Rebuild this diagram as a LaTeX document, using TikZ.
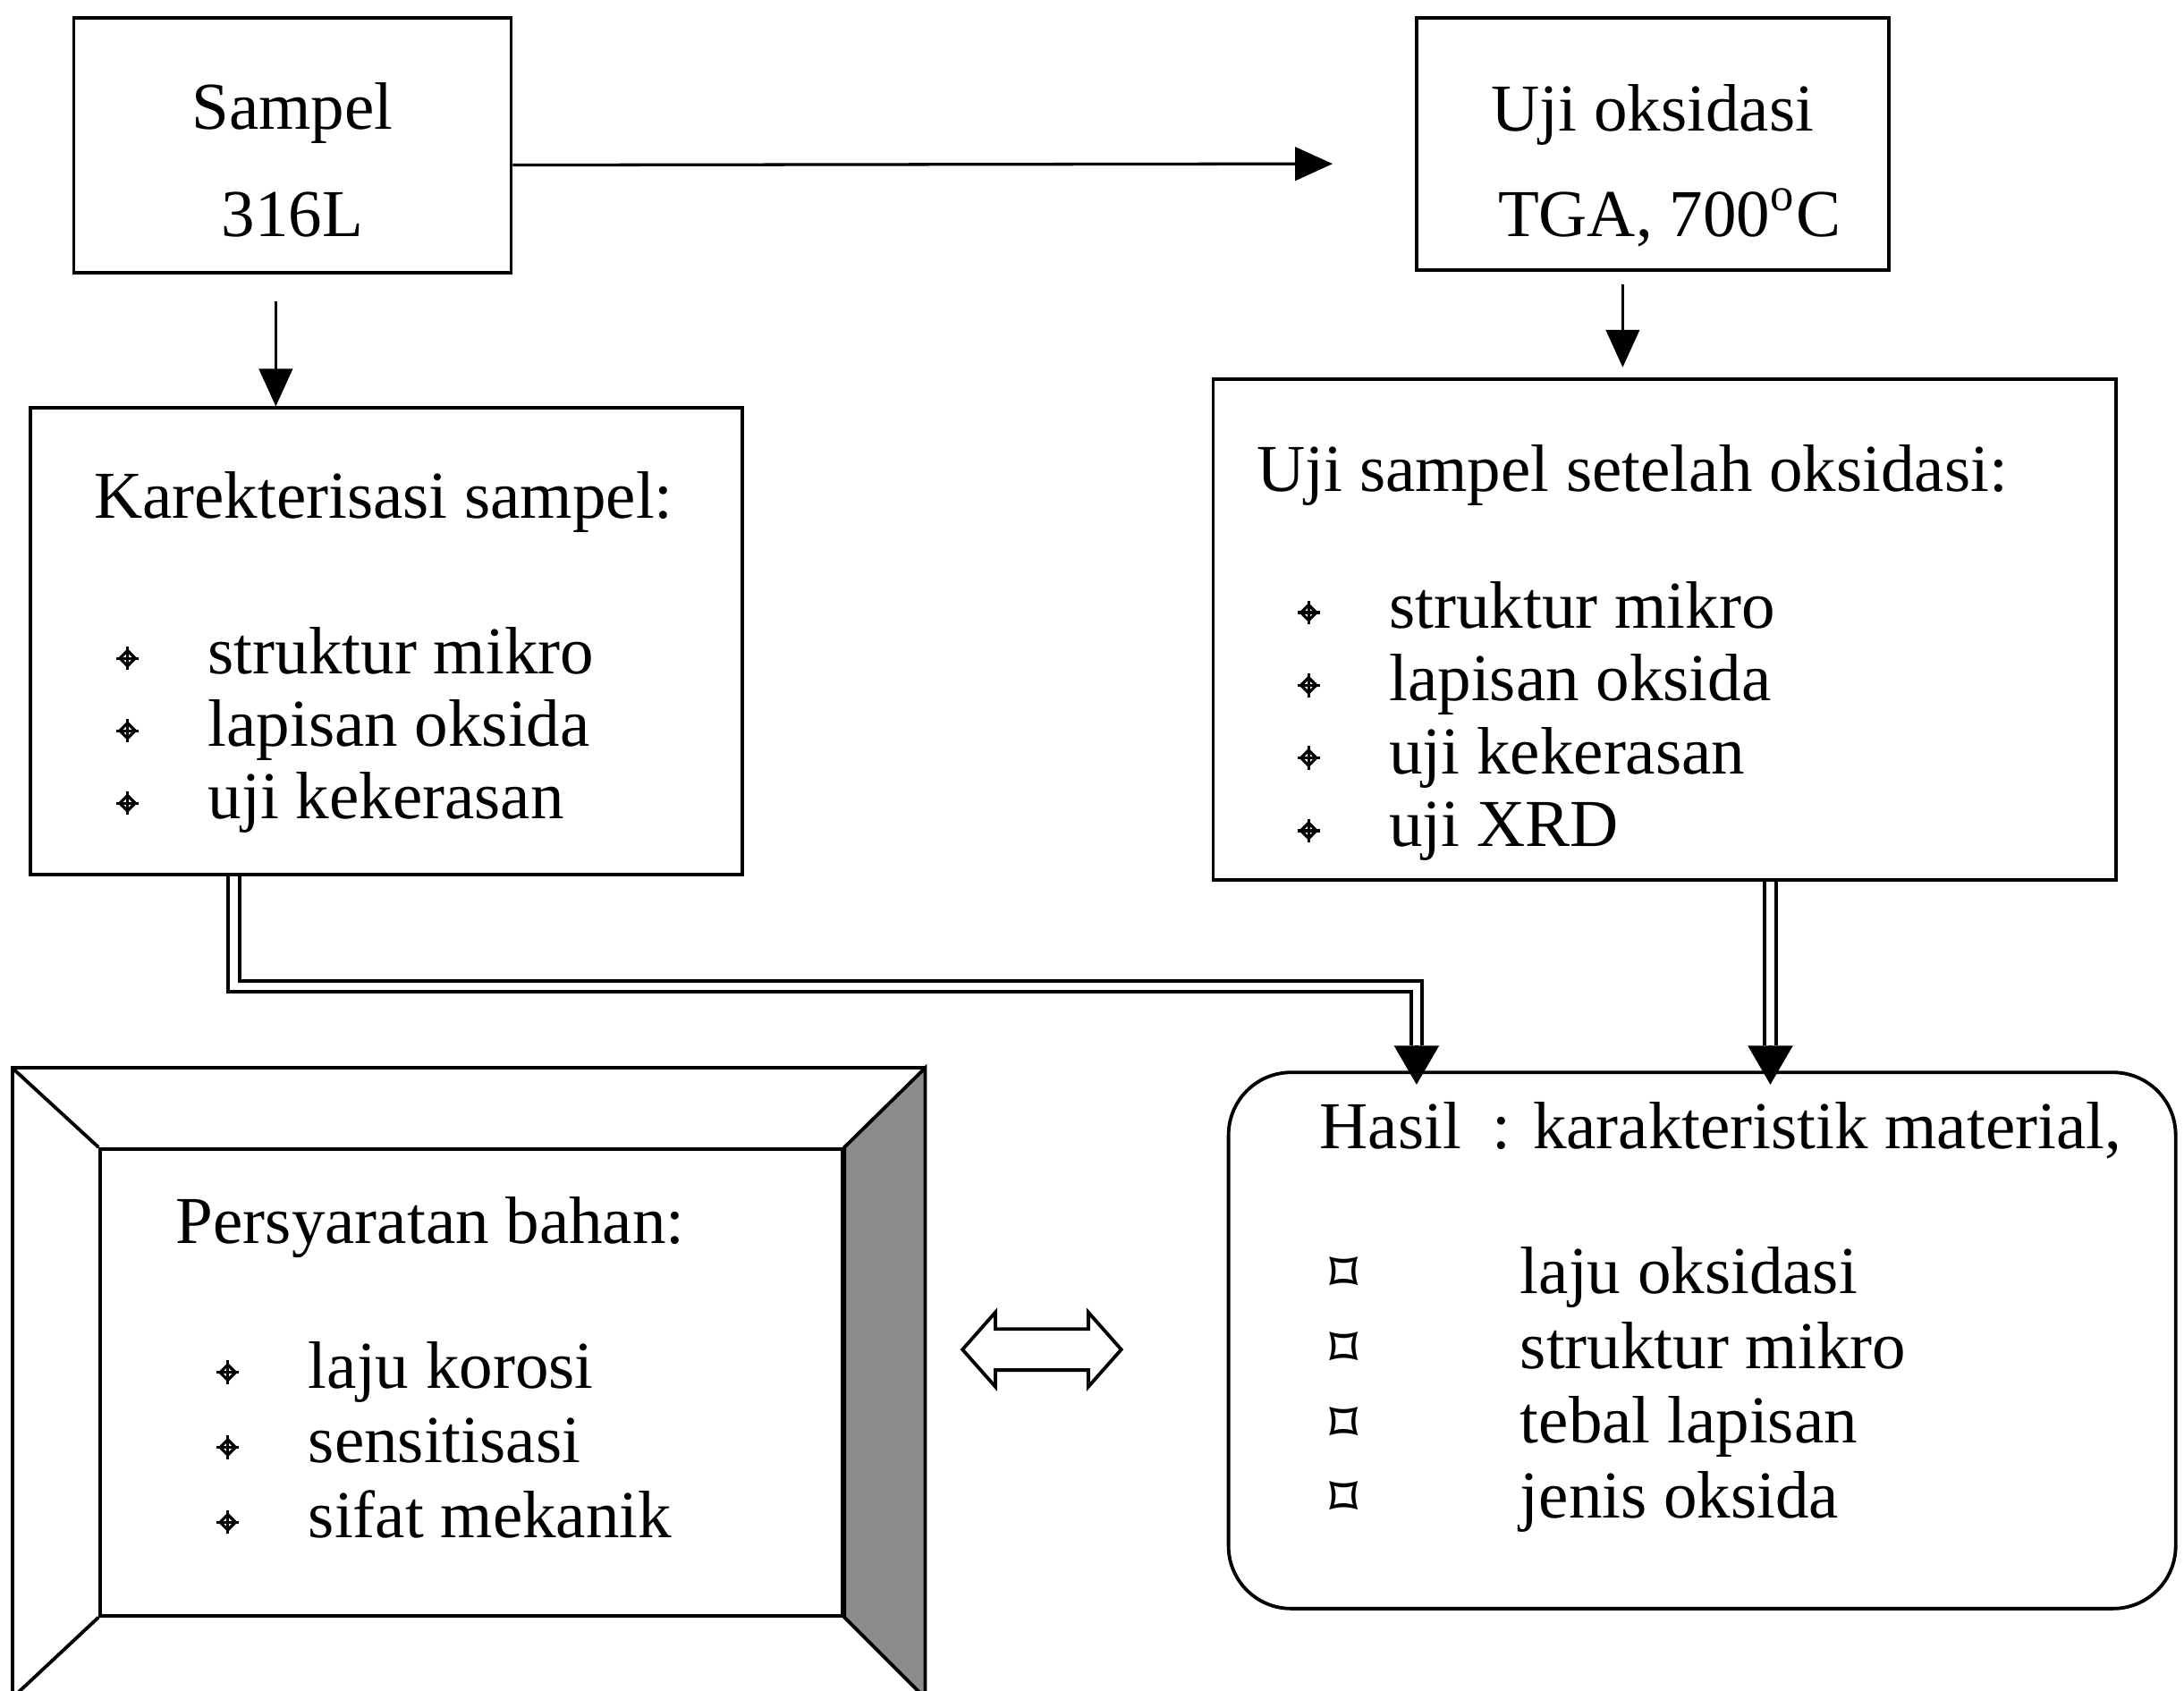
\documentclass[tikz,border=0pt]{standalone}
\usepackage{fontspec}
\setmainfont{Liberation Serif}
\newfontfamily\simbol{DejaVu Sans}
\usetikzlibrary{arrows.meta,shapes.arrows,calc}
\tikzstyle{kotak} = [rectangle, draw=black, line width=0.7pt]
\tikzstyle{isi} = [inner sep=0pt, align=left, anchor=north west]
\tikzstyle{panah} = [line width=0.6pt, -{Triangle[length=0.27cm, width=0.24cm]}]
\tikzstyle{ganda} = [double, double distance=1.6pt, line width=0.7pt]
\tikzstyle{ujung} = [line width=0.6pt, -{Triangle[length=0.28cm, width=0.32cm]}]
\newcommand{\tandasilang}{\tikz[baseline=-3.2pt, line width=0.6pt]{\draw (0,0.055) -- (0.055,0) -- (0,-0.055) -- (-0.055,0) -- cycle; \draw (-0.08,0) -- (0.08,0) (0,-0.085) -- (0,0.085);}}
\newcommand{\silang}[2]{\makebox[#2][l]{\hspace*{#1}\tandasilang}}
\newcommand{\belah}[2]{\makebox[#2][l]{\hspace*{#1}\raisebox{0.3pt}{\simbol\bfseries\fontsize{11}{11}\selectfont ⌑}}}

\begin{document}
\begin{tikzpicture}[font=\fontsize{13.7}{14.8}\selectfont]
        \useasboundingbox (0,0) rectangle (15.68,-12.14);

        \node (sampel) [kotak, minimum width=3.14cm, minimum height=1.83cm, align=center] at (2.10,-1.045) {\rule{0pt}{0.54cm}Sampel \\[0.25cm] 316L};
        \node (oks) [kotak, minimum width=3.39cm, minimum height=1.81cm, align=center] at (11.865,-1.035) {\rule{0pt}{0.64cm}Uji oksidasi \\[0.24cm] \hspace*{0.24cm}TGA, 700\textsuperscript{o}C};

        \node (kar) [kotak, minimum width=5.11cm, minimum height=3.35cm] at (2.775,-4.605) {};
        \node (kartxt) [isi, font=\fontsize{13.7}{14.8}\selectfont] at ([shift={(0.46,-0.46)}]kar.north west) {Karekterisasi sampel:\\[0.6cm] \silang{0.15cm}{0.82cm}struktur mikro \\ \silang{0.15cm}{0.82cm}lapisan oksida \\ \silang{0.15cm}{0.82cm}uji kekerasan};

        \node (ujs) [kotak, minimum width=6.48cm, minimum height=3.60cm] at (11.95,-4.52) {};
        \node (ujstxt) [isi, font=\fontsize{13.7}{14.85}\selectfont] at ([shift={(0.32,-0.48)}]ujs.north west) {Uji sampel setelah oksidasi:\\[0.46cm] \silang{0.28cm}{0.95cm}struktur mikro \\ \silang{0.28cm}{0.95cm}lapisan oksida \\ \silang{0.28cm}{0.95cm}uji kekerasan \\ \silang{0.28cm}{0.95cm}uji XRD};

        \node (hasil) [kotak, rounded corners=0.45cm, minimum width=6.80cm, minimum height=3.85cm] at (12.22,-9.625) {};
        \node (hasiltxt) [isi, font=\fontsize{13.7}{15.3}\selectfont] at ([shift={(0.66,-0.22)}]hasil.north west) {Hasil\hspace{0.22cm}: karakteristik material,\\[0.5cm] \belah{0.07cm}{1.44cm}laju oksidasi \\ \belah{0.07cm}{1.44cm}struktur mikro \\ \belah{0.07cm}{1.44cm}tebal lapisan \\ \belah{0.07cm}{1.44cm}jenis oksida};

        \node (syarat) [kotak, minimum width=5.33cm, minimum height=3.35cm] at (3.385,-9.925) {};
        \coordinate (lk) at ($(syarat.north west)+(-0.62,0.57)$);
        \coordinate (rk) at ($(syarat.north east)+(0.58,0.57)$);
        \coordinate (ra) at ($(syarat.south east)+(0.58,-0.58)$);
        \coordinate (la) at ($(syarat.south west)+(-0.62,-0.58)$);
        \draw[kotak, fill=black!45] (syarat.north east) -- (rk) -- (ra) -- (syarat.south east) -- cycle;
        \draw[kotak] (lk) rectangle (ra);
        \draw[kotak] (lk) -- (syarat.north west);
        \draw[kotak] (la) -- (syarat.south west);
        \node (syarattxt) [isi, font=\fontsize{13.7}{15.3}\selectfont] at ([shift={(0.55,-0.35)}]syarat.north west) {Persyaratan bahan:\\[0.5cm] \silang{0.28cm}{0.95cm}laju korosi \\ \silang{0.28cm}{0.95cm}sensitisasi \\ \silang{0.28cm}{0.95cm}sifat mekanik};

        \node (tukar) [double arrow, draw, line width=0.7pt, minimum height=1.14cm, inner xsep=0pt, inner ysep=0.135cm, double arrow head extend=0.12cm, double arrow tip angle=97] at (7.48,-9.69) {};

        \draw[panah, shorten >=0.59cm] ([yshift=-0.14cm]sampel.east) -- ([yshift=-0.14cm]oks.west);
        \coordinate (a1) at ([xshift=-0.12cm]sampel.south);
        \draw[panah, shorten <=0.19cm] (a1) -- (a1 |- kar.north);
        \coordinate (a2) at ([xshift=-0.215cm]oks.south);
        \draw[panah, shorten <=0.09cm, shorten >=0.07cm] (a2) -- (a2 |- ujs.north);

        \coordinate (belok1) at ($(kar.south)+(-1.095,-0.79)$);
        \coordinate (belok2) at ($(belok1 -| hasil.north)+(-2.05,0)$);
        \coordinate (pangkal1) at ($(belok2 |- hasil.north)+(0,0.18)$);
        \coordinate (ujung1) at ($(belok2 |- hasil.north)+(0,-0.10)$);
        \draw[ganda] (kar.south -| belok1) -- (belok1) -- (belok2) -- (pangkal1);
        \draw[ujung] (pangkal1) -- (ujung1);

        \coordinate (atas2) at ($(ujs.south)+(0.76,0)$);
        \coordinate (pangkal2) at ($(atas2 |- hasil.north)+(0,0.18)$);
        \coordinate (ujung2) at ($(atas2 |- hasil.north)+(0,-0.10)$);
        \draw[ganda] (atas2) -- (pangkal2);
        \draw[ujung] (pangkal2) -- (ujung2);

\end{tikzpicture}
\end{document}
